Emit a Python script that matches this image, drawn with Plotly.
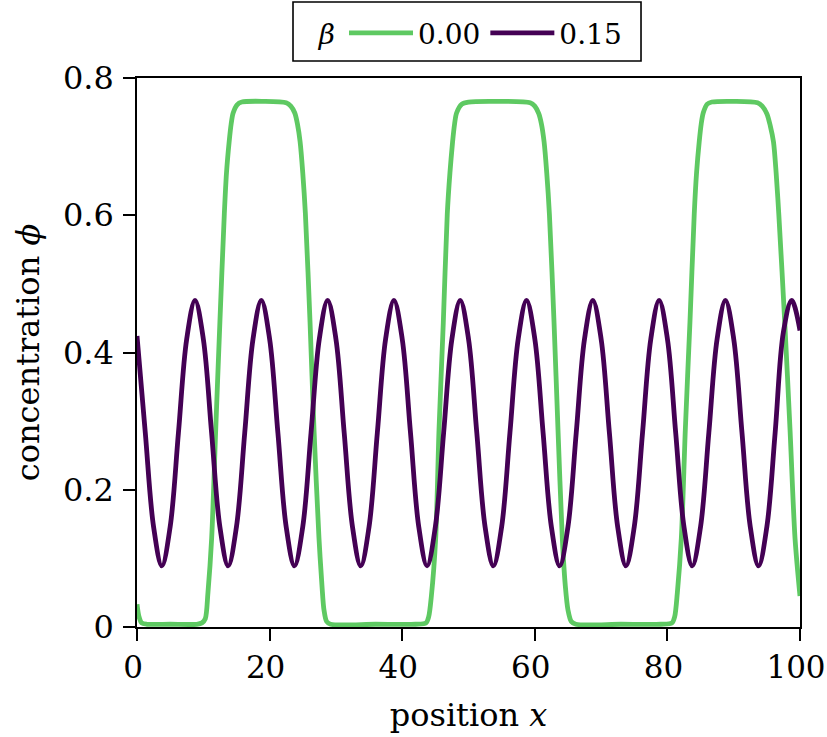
import plotly.graph_objects as go

# ---- data ----
beta_labels = ["0.00", "0.15"]

x_beta000 = [0.0, 0.3, 0.7, 1.5, 5.0, 9.0, 9.8, 10.3, 10.7, 11.26, 11.87, 12.5, 13.17, 13.5, 13.9, 14.2, 14.5, 15.1, 15.8,
             19.0, 22.5, 23.2, 23.8, 24.2, 24.6, 25.0, 25.4, 26.1, 26.7, 27.45, 27.9, 28.2, 28.6, 29.2,
             36.0, 42.0, 43.6, 44.0, 44.4, 45.05, 45.55, 46.2, 46.8, 47.2, 47.6, 47.9, 48.2, 49.0, 50.0,
             54.0, 59.3, 60.0, 60.6, 61.0, 61.4, 61.8, 62.2, 62.9, 63.5, 64.15, 64.6, 65.0, 65.5, 66.2,
             73.0, 79.0, 80.7, 81.1, 81.5, 82.1, 82.7, 83.4, 84.05, 84.4, 84.8, 85.1, 85.4, 86.0, 86.7,
             90.0, 93.6, 94.3, 95.0, 95.5, 96.0, 96.4, 96.8, 97.7, 98.5, 99.25, 100.0]
y_beta000 = [0.033, 0.015, 0.006, 0.004, 0.004, 0.004, 0.006, 0.012, 0.05, 0.129, 0.287, 0.444, 0.602, 0.662, 0.707, 0.733, 0.749, 0.761, 0.765,
             0.766, 0.764, 0.759, 0.749, 0.733, 0.707, 0.662, 0.602, 0.444, 0.287, 0.129, 0.06, 0.025, 0.008, 0.004,
             0.004, 0.004, 0.006, 0.015, 0.045, 0.129, 0.287, 0.444, 0.602, 0.662, 0.707, 0.733, 0.749, 0.762, 0.765,
             0.766, 0.764, 0.759, 0.748, 0.733, 0.707, 0.662, 0.602, 0.444, 0.287, 0.129, 0.06, 0.025, 0.008, 0.004,
             0.004, 0.004, 0.006, 0.015, 0.05, 0.129, 0.287, 0.444, 0.602, 0.662, 0.707, 0.733, 0.749, 0.762, 0.765,
             0.766, 0.764, 0.759, 0.748, 0.731, 0.707, 0.662, 0.602, 0.444, 0.287, 0.129, 0.045]

x_beta015 = [0.0, 1.25, 2.5, 3.75, 5.0, 6.25, 7.5, 8.75, 10.0, 11.25, 12.5, 13.75, 15.0, 16.25, 17.5, 18.75,
             20.0, 21.25, 22.5, 23.75, 25.0, 26.25, 27.5, 28.75, 30.0, 31.25, 32.5, 33.75, 35.0, 36.25, 37.5, 38.75,
             40.0, 41.25, 42.5, 43.75, 45.0, 46.25, 47.5, 48.75, 50.0, 51.25, 52.5, 53.75, 55.0, 56.25, 57.5, 58.75,
             60.0, 61.25, 62.5, 63.75, 65.0, 66.25, 67.5, 68.75, 70.0, 71.25, 72.5, 73.75, 75.0, 76.25, 77.5, 78.75,
             80.0, 81.25, 82.5, 83.75, 85.0, 86.25, 87.5, 88.75, 90.0, 91.25, 92.5, 93.75, 95.0, 96.25, 97.5, 98.75,
             100.0]
y_beta015 = [0.424, 0.283, 0.146, 0.089, 0.146, 0.283, 0.420, 0.476, 0.420, 0.283, 0.146, 0.089, 0.146, 0.283, 0.420, 0.476,
             0.420, 0.283, 0.146, 0.089, 0.146, 0.283, 0.420, 0.476, 0.420, 0.283, 0.146, 0.089, 0.146, 0.283, 0.420, 0.476,
             0.420, 0.283, 0.146, 0.089, 0.146, 0.283, 0.420, 0.476, 0.420, 0.283, 0.146, 0.089, 0.146, 0.283, 0.420, 0.476,
             0.420, 0.283, 0.146, 0.089, 0.146, 0.283, 0.420, 0.476, 0.420, 0.283, 0.146, 0.089, 0.146, 0.283, 0.420, 0.476,
             0.420, 0.283, 0.146, 0.089, 0.146, 0.283, 0.420, 0.476, 0.420, 0.283, 0.146, 0.089, 0.146, 0.283, 0.430, 0.476,
             0.432]

x_tickvals = [0, 20, 40, 60, 80, 100]
x_ticktext = ["0", "20", "40", "60", "80", "100"]
y_tickvals = [0, 0.2, 0.4, 0.6, 0.8]
y_ticktext = ["0", "0.2", "0.4", "0.6", "0.8"]

colors = ["#5ec962", "#440154"]
FONT = "DejaVu Serif"

fig = go.Figure()
fig.add_trace(go.Scatter(x=x_beta000, y=y_beta000, mode="lines", name=beta_labels[0],
                         line=dict(color=colors[0], width=4.8, shape="spline", smoothing=0.8)))
fig.add_trace(go.Scatter(x=x_beta015, y=y_beta015, mode="lines", name=beta_labels[1],
                         line=dict(color=colors[1], width=4.8, shape="spline", smoothing=1.0)))

axis_common = dict(showgrid=False, zeroline=False, showline=True, linecolor="black", linewidth=1.6,
                   mirror=True, ticks="outside", ticklen=12, tickwidth=1.6, tickcolor="black",
                   automargin=False, ticklabeloverflow="allow")

# legend frame (box around the horizontal legend above the plot)
fig.add_shape(type="rect", xref="paper", yref="paper",
              x0=0.2353, x1=0.7602, y0=1.031, y1=1.1384,
              line=dict(color="black", width=1.6), fillcolor="white", layer="below")

fig.update_layout(
    width=827, height=737,
    margin=dict(l=137, r=27, t=78, b=110, autoexpand=False),
    paper_bgcolor="white", plot_bgcolor="white",
    font=dict(family=FONT, size=32, color="black"),
    xaxis=dict(range=[0, 100], tickvals=x_tickvals, ticktext=x_ticktext,
               tickfont=dict(family=FONT, size=31, color="black"),
               title=dict(text="position <i>x</i>", font=dict(family=FONT, size=32), standoff=20),
               ticklabelstandoff=0, ticklabelshift=-4,
               **axis_common),
    yaxis=dict(range=[0, 0.8], tickvals=y_tickvals, ticktext=y_ticktext,
               tickfont=dict(family=FONT, size=32, color="black"),
               title=dict(text="concentration <i>ϕ</i>", font=dict(family=FONT, size=32), standoff=14),
               ticklabelstandoff=3,
               **axis_common),
    showlegend=True,
    legend=dict(orientation="h", x=0.505, xanchor="center", xref="paper",
                y=0.989, yanchor="top", yref="container",
                borderwidth=0, bgcolor="rgba(0,0,0,0)",
                font=dict(family=FONT, size=28, color="black"),
                title=dict(text="<i>β</i>", font=dict(family=FONT, size=28), side="left"),
                itemwidth=64, tracegroupgap=0),
)

fig.write_html("out.html", config={"displayModeBar": False},
               post_script="document.body.style.margin='0px';")
